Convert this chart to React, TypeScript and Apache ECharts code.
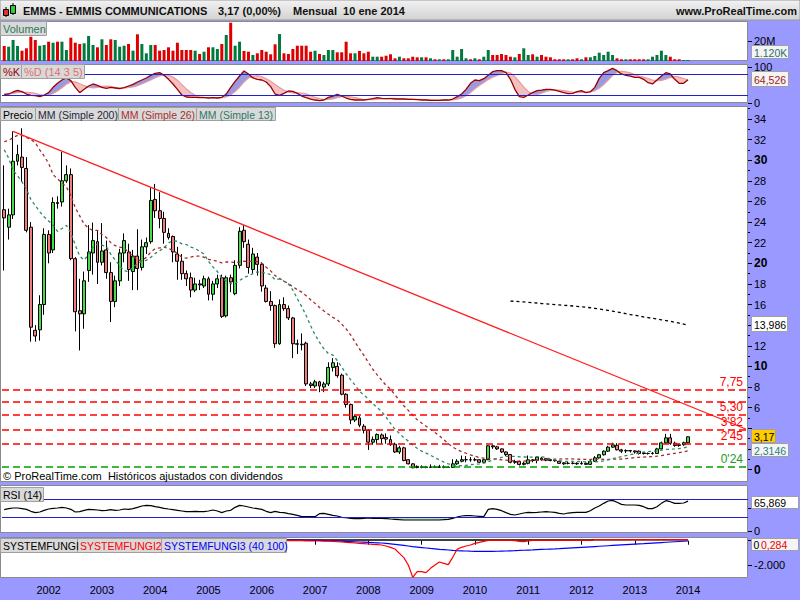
import React, { useEffect, useRef } from 'react';
import * as echarts from 'echarts';

// ---------- DATA (monthly, Mar 2001 .. Jan 2014) ----------
const opens = [
  25.2, 23.5, 24.7, 29.9, 30.3, 29.2, 23.5, 13.5, 13.55, 16.0,
  22.8, 21.3, 25.9, 25.95, 28.0, 28.6, 20.45, 15.4, 15.1, 19.3,
  21.0, 22.1, 20.1, 21.3, 19.1, 16.3, 18.3, 21.0, 21.1, 19.2,
  20.7, 19.6, 21.6, 22.1, 26.2, 25.1, 24.35, 22.9, 22.6, 20.9,
  20.2, 19.0, 18.6, 17.4, 18.0, 17.8, 18.5, 17.0, 18.0, 18.6,
  14.9, 18.6, 17.05, 19.8, 23.2, 21.85, 19.4, 20.6, 19.9, 17.6,
  16.3, 15.9, 12.2, 16.0, 15.6, 14.7, 12.2, 12.15, 12.25, 8.3,
  8.1, 8.5, 8.0, 8.3, 9.9, 10.0, 9.15, 7.3, 6.3, 4.8,
  5.0, 4.2, 3.8, 2.65, 2.9, 3.35, 3.1, 2.9, 2.45, 1.7,
  2.1, 0.95, 0.55, 0.3, 0.2, 0.25, 0.2, 0.25, 0.22, 0.25,
  0.2, 0.2, 0.55, 0.8, 0.95, 0.95, 0.93, 0.95, 0.7, 0.95,
  2.3, 2.2, 2.0, 1.7, 1.45, 0.7, 0.78, 0.5, 0.6, 0.94,
  0.9, 1.1, 1.05, 0.95, 0.87, 0.8, 0.65, 0.6, 0.6, 0.6,
  0.55, 0.6, 0.5, 0.8, 1.13, 1.43, 1.78, 2.17, 2.35, 1.9,
  1.8, 1.84, 1.8, 1.78, 1.6, 1.55, 1.55, 1.55, 2.0, 2.58,
  3.07, 2.55, 2.4, 2.4, 2.6,
];
const closes = [
  24.4, 24.7, 29.9, 30.55, 29.3, 23.2, 13.8, 12.95, 16.0, 22.8,
  21.0, 25.9, 25.8, 28.0, 28.6, 20.45, 15.3, 15.1, 18.3, 21.1,
  22.2, 20.1, 21.2, 19.1, 16.3, 18.3, 21.0, 22.2, 19.4, 20.7,
  19.5, 21.6, 22.0, 26.1, 25.1, 24.35, 23.0, 22.5, 21.1, 20.2,
  19.0, 18.5, 17.4, 18.0, 17.9, 18.5, 17.0, 18.0, 18.5, 14.85,
  18.6, 18.2, 19.8, 23.1, 22.1, 19.6, 20.9, 19.9, 17.8, 16.3,
  15.9, 12.2, 16.0, 15.6, 14.7, 12.2, 12.15, 12.1, 8.3, 8.15,
  8.5, 8.1, 8.3, 9.9, 10.35, 9.1, 7.3, 6.3, 4.8, 5.15,
  4.3, 3.8, 2.65, 2.9, 3.4, 3.0, 2.95, 2.4, 1.7, 2.1,
  0.87, 0.55, 0.17, 0.2, 0.25, 0.2, 0.25, 0.22, 0.25, 0.2,
  0.22, 0.55, 0.8, 0.95, 0.95, 0.93, 0.95, 0.7, 0.95, 2.3,
  2.2, 2.0, 1.7, 1.45, 0.7, 0.78, 0.49, 0.6, 0.94, 0.87,
  1.2, 0.95, 0.9, 0.87, 0.85, 0.6, 0.55, 0.6, 0.58, 0.55,
  0.6, 0.5, 0.8, 1.13, 1.43, 1.78, 2.17, 2.39, 1.91, 1.78,
  1.84, 1.8, 1.7, 1.55, 1.55, 1.55, 1.58, 2.0, 2.58, 3.07,
  2.55, 2.33, 2.33, 2.6, 3.17,
];
const lows = [
  19.3, 22.3, 24.3, 29.5, 27.9, 23.0, 12.4, 12.4, 12.5, 15.0,
  20.0, 21.0, 25.3, 25.5, 27.8, 20.3, 13.4, 11.55, 13.65, 18.2,
  18.9, 18.0, 19.8, 18.5, 14.3, 15.75, 17.8, 20.1, 18.3, 17.4,
  17.4, 19.3, 20.9, 21.9, 24.4, 23.4, 21.9, 22.3, 20.1, 18.4,
  18.4, 17.8, 16.7, 17.2, 17.4, 17.6, 16.4, 16.4, 17.6, 14.7,
  14.75, 17.2, 16.9, 19.5, 21.5, 19.0, 19.0, 18.8, 17.25, 16.2,
  15.4, 11.8, 12.1, 15.4, 14.5, 10.8, 11.2, 11.55, 8.1, 7.9,
  7.9, 7.5, 7.5, 8.1, 9.5, 8.9, 7.2, 6.0, 4.4, 4.6,
  4.1, 3.5, 1.9, 2.4, 2.5, 2.5, 2.5, 2.3, 1.6, 1.5,
  0.8, 0.5, 0.12, 0.12, 0.12, 0.12, 0.15, 0.15, 0.15, 0.12,
  0.15, 0.15, 0.45, 0.7, 0.7, 0.75, 0.8, 0.65, 0.65, 0.9,
  2.0, 1.9, 1.6, 1.3, 0.6, 0.55, 0.39, 0.4, 0.5, 0.7,
  0.6, 0.85, 0.8, 0.8, 0.75, 0.55, 0.45, 0.5, 0.5, 0.45,
  0.48, 0.45, 0.45, 0.75, 1.05, 1.35, 1.7, 2.1, 1.85, 1.6,
  1.6, 1.65, 1.55, 1.45, 1.45, 1.45, 1.45, 1.5, 1.95, 2.5,
  2.4, 2.2, 2.2, 2.3, 2.55,
];
const highs = [
  29.5, 25.3, 32.8, 31.5, 33.1, 30.3, 24.0, 14.0, 16.9, 23.4,
  23.2, 26.4, 26.5, 30.8, 29.5, 29.2, 20.6, 18.5, 19.2, 23.7,
  23.95, 23.2, 23.9, 22.2, 20.1, 18.8, 21.4, 22.9, 21.9, 21.3,
  23.3, 22.3, 22.5, 27.3, 27.7, 26.9, 25.0, 23.4, 22.7, 21.6,
  20.9, 19.3, 19.1, 18.6, 18.4, 18.8, 18.7, 18.3, 18.9, 18.9,
  18.8, 18.9, 20.3, 23.5, 23.7, 22.3, 21.5, 21.0, 20.1, 17.9,
  17.3, 16.0, 16.5, 16.7, 15.9, 14.8, 12.6, 13.2, 12.4, 8.5,
  8.7, 8.6, 8.5, 10.4, 10.8, 10.4, 9.3, 7.4, 6.4, 5.3,
  5.2, 4.4, 3.9, 3.2, 3.5, 3.5, 3.5, 3.3, 2.6, 2.3,
  2.2, 1.0, 0.6, 0.4, 0.4, 0.35, 0.5, 0.4, 0.45, 0.4,
  0.35, 1.0, 1.0, 1.35, 1.3, 1.2, 1.15, 1.0, 1.05, 2.35,
  2.4, 2.3, 2.05, 1.75, 1.5, 0.95, 0.85, 0.75, 1.36, 1.0,
  1.3, 1.2, 1.1, 1.0, 0.95, 0.85, 0.7, 0.75, 0.85, 0.7,
  0.8, 0.7, 0.9, 1.3, 1.5, 1.85, 2.3, 2.6, 2.56, 2.0,
  1.95, 1.9, 1.85, 1.85, 1.7, 1.65, 1.7, 2.1, 2.7, 3.46,
  3.46, 2.7, 2.5, 2.7, 3.2,
];
// volume in millions
const volumes = [
  15, 14.3, 21, 15, 10.3, 12.7, 24.3, 21, 15.3, 16,
  19.3, 18.3, 19.3, 19.3, 11, 23.3, 18.3, 17, 17.7, 25,
  16, 13.7, 21.7, 16, 21.7, 21, 14.3, 15.3, 17, 10.3,
  26.7, 17, 7.7, 16, 16, 10.3, 11, 13.7, 10.3, 18.3,
  11, 11, 11, 10.3, 7, 9.3, 13.7, 13.7, 12, 17,
  26, 38.3, 15.3, 19.3, 10, 9.3, 6, 7.7, 11, 9.3,
  6.7, 16.7, 27, 7.7, 7, 12, 15.3, 15.3, 15.3, 9.3,
  10.3, 7, 6, 11, 11, 8.7, 8.7, 19.3, 7.7, 7.7,
  10, 7.7, 9.3, 4.3, 4.3, 4.3, 5.3, 6.7, 2.7, 4.3,
  2.7, 2.7, 4.3, 3.7, 3.7, 3.7, 2.7, 1.7, 1.7, 1.7,
  1.7, 11, 4.3, 12, 2.7, 1.7, 2.7, 1.7, 4.3, 11,
  6, 6, 7, 6, 4.3, 3.7, 7, 12.7, 6, 6.7,
  4.3, 6, 4.3, 3.7, 1.7, 1.7, 1.7, 1.7, 1.7, 2.7,
  1.7, 3.7, 3.7, 5, 8.3, 6, 9.3, 6, 2.7, 1.7,
  1.7, 1.7, 1.7, 1.7, 1.7, 1.7, 4.3, 6, 10.3, 6,
  4.3, 1.7, 1.7, 1, 1,
];
const stochK = [
  23.7, 24.6, 30.3, 34.9, 31.2, 24.6, 20.9, 20, 17.2, 21.8,
  28.4, 43.3, 54.5, 63.9, 69.5, 62, 43.3, 28.4, 37.7, 47.1,
  52.7, 48.9, 43.3, 40.5, 43.3, 41.5, 39.6, 42.4, 47.1, 51.7,
  58.3, 63.9, 69.5, 76.9, 82.5, 84.4, 76.9, 65.7, 52.7, 37.7,
  21.8, 16.2, 15.3, 15.3, 14.3, 14.3, 13.4, 14.3, 13.4, 15.3,
  24.6, 43.3, 60.1, 75, 89, 80.7, 69.5, 65.7, 63.9, 58.3,
  45.2, 24.6, 20.9, 26.5, 33, 32.1, 26.5, 19, 14.3, 10.6,
  7.8, 6, 7.8, 15.3, 19, 23.7, 19, 13.4, 9.7, 7.8,
  7.8, 7.8, 9.7, 11.6, 14.3, 12.5, 11.6, 11.6, 10.6, 10.6,
  10.6, 9.7, 9.7, 8.8, 7.8, 7.8, 6.9, 6.9, 6.9, 7.8,
  7.8, 10.6, 17.2, 24.6, 37.7, 54.5, 63.9, 62, 67.6, 76.9,
  87.2, 90, 90, 84.4, 65.7, 37.7, 17.2, 15.3, 21.8, 28.4,
  34, 35.8, 37.7, 37.7, 35.8, 32.1, 28.4, 25.6, 26.5, 31.2,
  34, 28.4, 31.2, 43.3, 68.5, 84.4, 90, 96.5, 90, 80.7,
  76.9, 75, 71.3, 71.3, 65.7, 56.4, 52.7, 63.9, 75, 84.4,
  80.7, 65.7, 54.5, 54.5, 64.526,
];
const rsi = [
  47, 49.2, 50.7, 50.7, 49.2, 47.7, 43.3, 40.3, 41.8, 45.5,
  48.4, 49.9, 50.7, 52.1, 50.7, 47.7, 41.8, 42.5, 45.5, 47.7,
  47, 46.2, 44.7, 45.5, 47, 45.5, 46.2, 48.4, 47.7, 49.2,
  52.1, 55.1, 56.6, 55.9, 53.6, 52.1, 49.9, 48.4, 47, 45.5,
  44, 42.5, 42.5, 43.3, 42.5, 42.5, 44, 46.2, 44, 40.3,
  44, 45.5, 52.1, 56.6, 55.1, 52.9, 50.7, 49.2, 47.7, 43.3,
  40.3, 43.3, 41, 40.3, 38.1, 36.6, 34.4, 31.4, 31.4, 31.4,
  31.4, 38.1, 38.8, 36.6, 34.4, 32.9, 29.9, 29.2, 27.7, 27,
  27, 27.7, 28.4, 27.7, 27.7, 27.7, 27, 26.2, 25.5, 24.7,
  24, 24, 24, 24, 24, 24, 24, 24, 24, 24.7,
  25.5, 27.7, 30.7, 32.9, 33.6, 33.6, 32.9, 32.2, 31.4, 47.7,
  49.2, 47.7, 44.7, 40.3, 36.6, 35.1, 37.3, 39.5, 41, 40.3,
  41, 41.8, 42.5, 41.8, 41, 38.8, 37.3, 39.5, 40.3, 41,
  41, 41, 44.7, 50.7, 55.1, 61, 66.2, 67.7, 63.3, 58.8,
  57.3, 57.3, 57.3, 56.6, 53.6, 49.2, 49.2, 53.6, 61, 67,
  64.7, 61, 61, 61.8, 65.869,
];
const fungi1 = [
  60, 60, 60, 60, 60, 60, 60, 60, 60, 60, 60, 60, 60, 60, 60, 60, 60, 60, 60, 60,
  60, 60, 60, 60, 60, 60, 60, 60, 60, 60, 60, 60, 60, 60, 60, 60, 60, 60, 60, 60,
  60, 60, 60, 60, 60, 60, 60, 60, 60, 60, 60, 60, 60, 60, 60, 60, 60, 60, 60, 60,
  60, 60, 60, 60, 60, 60, 60, 60, 60, 60, 60, 60, 60, 60, 60, 60, 60, 60, 60, 60,
  60, 60, 60, 60, 60, 60, 60, 60, 60, 60, 60, 60, 60, 60, 60, 60, 60, 60, 60, 60,
  60, 60, 60, 60, 60, 60, 60, 60, 60, 60, 60, 60, 60, 60, 60, 60, 60, 60, 60, 60,
  60, 60, 60, 60, 60, 60, 60, 60, 60, 60, 60, 60, 60, 70, 70, 70, 70, 70, 70, 70,
  70, 70, 70, 70, 70, 70, 70, 70, 70, 70, 70, 70, 70, 70, 70,
];
const fungi2 = [
  5, 5, 5, 5, 5, 5, 5, 5, 5, 5, 5, 5, 5, 5, 5, 5, 5, 5, 5, 5,
  5, 5, 5, 5, 5, 5, 5, 5, 5, 5, 5, 5, 5, 5, 5, 5, 5, 5, 5, 5,
  5, 5, 5, 5, 5, 5, 5, 5, 5, 5, 5, 5, 5, 5, 5, 5, 5, 5, 5, 5,
  5, 5, 5, 5, 3, 3, 3, 0, -10, -20, -24, -24, -30, -40, -52, -80, -107, -135, -162, -190,
  -217, -245, -272, -300, -326, -354, -436, -545, -683, -1040, -1396, -2000, -3014, -2548, -2548, -2630, -2274, -2000, -1753, -1863,
  -1973, -1368, -710, -545, -436, -354, -217, -134, -52, 30, 30, 30, 30, 30, 20, 0, -52, -80, -20, 30,
  30, 30, 30, 30, 30, 30, 30, 30, 30, 30, 30, 30, 30, 85, 85, 85, 85, 85, 85, 85,
  85, 85, 85, 85, 85, 85, 85, 85, 85, 85, 85, 85, 85, 85, 85,
];
const fungi3 = [
  55, 55, 55, 55, 55, 55, 55, 55, 55, 55, 55, 55, 55, 55, 55, 55, 55, 55, 55, 55,
  55, 55, 55, 55, 55, 55, 55, 55, 55, 55, 55, 55, 55, 55, 55, 55, 55, 55, 55, 55,
  55, 55, 55, 55, 55, 55, 55, 55, 55, 55, 55, 55, 55, 55, 55, 55, 55, 55, 55, 55,
  55, 55, 55, 55, 58, 55, 50, 45, 38, 32, 30, 20, 10, 0, -12, -24, -40, -57, -73, -90,
  -107, -123, -140, -156, -172, -189, -225, -262, -299, -340, -381, -436, -491, -527, -563, -600, -637, -673, -710, -738,
  -765, -793, -820, -834, -848, -862, -875, -875, -875, -875, -875, -866, -857, -848, -834, -820, -804, -787, -771, -755,
  -738, -721, -705, -688, -672, -655, -633, -611, -589, -567, -545, -523, -501, -480, -458, -436, -414, -392, -370, -348,
  -326, -304, -282, -260, -239, -217, -195, -173, -151, -129, -107, -86, -65, -45, -24,
];
// moving averages before enough history is shown
const mm13Head = [31.0, 30.2, 29.0, 28.5, 27.9, 27.2, 26.2, 25.6, 25.0, 24.5, 24.1, 23.7];
const mm26Head = [31.8, 31.9, 32.2, 32.4, 32.4, 32.2, 32.0, 31.7, 31.0, 30.4, 29.7, 28.6, 28.2,
  27.8, 27.4, 26.6, 25.4, 24.6, 23.8, 23.4, 23.2, 23.2, 22.8, 22.5, 22.0];
const mm200Start = 114;
const mm200Tail = [
  16.34, 16.31, 16.28, 16.25, 16.22, 16.18, 16.15, 16.1, 16.07, 16.04,
  16.0, 15.97, 15.93, 15.9, 15.86, 15.82, 15.78, 15.74, 15.69, 15.63,
  15.57, 15.5, 15.43, 15.36, 15.28, 15.2, 15.11, 15.03, 14.95, 14.88,
  14.8, 14.73, 14.66, 14.59, 14.52, 14.45, 14.37, 14.29, 14.2, 14.1, 13.986,
];
const trendFrom = { index: 2, value: 32.8 };
const trendTo = { index: 167, value: 3.93 };
const redLevels = [7.75, 6.55, 5.3, 3.82, 2.45];
const redLevelLabels = ['7,75', '', '5,30', "3'82", "2'45"];
const greenLevel = 0.24;
const greenLevelLabel = "0'24";
const yearLabels = ['2002', '2003', '2004', '2005', '2006', '2007', '2008', '2009', '2010', '2011', '2012', '2013', '2014'];
const priceTicks = [0, 2, 4, 6, 8, 10, 12, 14, 16, 18, 20, 22, 24, 26, 28, 30, 32, 34];
const priceLabels = [0, 6, 8, 10, 12, 16, 18, 20, 22, 24, 26, 28, 30, 32, 34];
const priceMinorTicks = [1, 3, 5, 7, 9, 11, 13, 15, 17, 19, 21, 23, 25, 27, 29, 31, 33, 35];

const N_SLOTS = 168;
const cats: string[] = [];
for (let i = 0; i < N_SLOTS; i++) {
  const m = 2 + i;
  const y = 2001 + Math.floor(m / 12);
  const mm = (m % 12) + 1;
  cats.push(`${y}-${String(mm).padStart(2, '0')}`);
}

function sma(vals: number[], period: number, head: number[]) {
  return vals.map((_, i) => {
    if (i < period - 1) return head[i];
    let s = 0;
    for (let k = i - period + 1; k <= i; k++) s += vals[k];
    return +(s / period).toFixed(3);
  });
}
function smaPartial(vals: number[], period: number) {
  return vals.map((_, i) => {
    const a = Math.max(0, i - period + 1);
    let s = 0;
    for (let k = a; k <= i; k++) s += vals[k];
    return s / (i - a + 1);
  });
}

const FONT = '"Liberation Sans", Arial, sans-serif';
const GREEN_C = '#44dd44';
const RED_C = '#f07c7c';

function box(x: number, y: number, w: number, h: number, text: string, color: string, fill = '#d9d9d9', size = 10.5) {
  return [
    { type: 'rect', z: 100, shape: { x, y, width: w, height: h }, style: { fill, stroke: '#a0a0a0', lineWidth: 1 } },
    { type: 'text', z: 101, x: x + 2.5, y: y + h / 2 + 0.5, style: { text, fill: color, font: `${size}px ${FONT}`, verticalAlign: 'middle' } },
  ];
}

function buildOption() {
  const candle = opens.map((o, i) => [o, closes[i], lows[i], highs[i]]);
  const mm13 = sma(closes, 13, mm13Head);
  const mm26 = sma(closes, 26, mm26Head);
  const mm200: (number | null)[] = closes.map((_, i) => (i >= mm200Start ? mm200Tail[i - mm200Start] : null));
  const trend: (number | null)[] = cats.map((_, i) => (i === trendFrom.index ? trendFrom.value : i === trendTo.index ? trendTo.value : null));
  const stochD = smaPartial(stochK, 5);
  const stBase = stochK.map((k, i) => Math.min(k, stochD[i]));
  const stUp = stochK.map((k, i) => Math.max(k - stochD[i], 0));
  const stDown = stochK.map((k, i) => Math.max(stochD[i] - k, 0));
  const rsiBase = rsi.map((v) => Math.min(v, 30));
  const rsiBand = rsi.map((v) => 30 - Math.min(v, 30));

  const gridDefs = [
    { top: 21, height: 40 },
    { top: 64, height: 39 },
    { top: 106, height: 376 },
    { top: 485, height: 48 },
    { top: 537, height: 41 },
  ];
  const grid = gridDefs.map((g) => ({ left: 2, width: 746, top: g.top, height: g.height, show: false }));

  const isYearTick = (idx: number, v: string) => yearLabels.includes(v.slice(0, 4)) && v.endsWith('-01');
  const xAxis = gridDefs.map((_, gi) => ({
    type: 'category',
    gridIndex: gi,
    data: cats,
    boundaryGap: true,
    show: gi === 4,
    axisLine: { show: false },
    axisTick: { show: gi === 4, alignWithLabel: true, interval: isYearTick, length: 4, lineStyle: { color: '#000' } },
    axisLabel: {
      show: gi === 4, interval: isYearTick, formatter: (v: string) => v.slice(0, 4),
      color: '#000', fontSize: 11, fontFamily: FONT, margin: 6,
    },
    splitLine: { show: false },
  }));

  const yBase = {
    type: 'value',
    position: 'right',
    axisLine: { show: false },
    splitLine: { show: false },
    axisTick: { show: true, length: 4, lineStyle: { color: '#000' } },
    axisLabel: { color: '#000', fontSize: 11, fontFamily: FONT, margin: 6 },
  };

  const yAxis = [
    { ...yBase, gridIndex: 0, min: 0, max: 40,
      axisTick: { ...yBase.axisTick, customValues: [20] },
      axisLabel: { ...yBase.axisLabel, customValues: [20], formatter: () => '20M' } },
    { ...yBase, gridIndex: 1, min: -0.56, max: 108.7,
      axisTick: { ...yBase.axisTick, customValues: [0, 100] },
      axisLabel: { ...yBase.axisLabel, customValues: [0, 100], formatter: (v: number) => String(v) } },
    { ...yBase, gridIndex: 2, min: -1.212, max: 35.257,
      axisTick: { ...yBase.axisTick, customValues: priceTicks },
      axisLabel: { ...yBase.axisLabel, customValues: priceLabels,
        formatter: (v: number) => (v % 10 === 0 ? `{b|${v}}` : `${v}`),
        rich: { b: { fontWeight: 'bold', fontSize: 12, fontFamily: FONT, color: '#000' } } } },
    { ...yBase, gridIndex: 2, min: -1.212, max: 35.257,
      axisTick: { show: true, length: 2, lineStyle: { color: '#000' }, customValues: priceMinorTicks },
      axisLabel: { show: false } },
    { ...yBase, gridIndex: 3, min: -4.89, max: 101.8,
      axisTick: { ...yBase.axisTick, customValues: [0, 50] },
      axisLabel: { ...yBase.axisLabel, customValues: [0] } },
    { ...yBase, gridIndex: 4, min: -3070, max: 305,
      axisTick: { ...yBase.axisTick, customValues: [-2000, 0] },
      axisLabel: { ...yBase.axisLabel, customValues: [-2000], formatter: () => '-2.000' } },
  ];

  const noLine = { lineStyle: { opacity: 0 }, symbol: 'none', showSymbol: false };

  const levelLine = (lv: number, lbl: string, color: string, textColor: string) => ({
    type: 'line', xAxisIndex: 2, yAxisIndex: 2, data: [], color, silent: true,
    markLine: {
      silent: true, symbol: ['none', 'none'], animation: false,
      lineStyle: { color, type: [7, 4], width: 1.6, opacity: 1 },
      label: { show: lbl !== '', formatter: lbl, color: textColor, position: 'insideEndTop', distance: [5, 2], fontSize: 12, fontFamily: FONT },
      data: [{ yAxis: lv }],
    },
  });

  const series: any[] = [
    {
      type: 'bar', xAxisIndex: 0, yAxisIndex: 0, barWidth: 3,
      data: volumes.map((v, i) => ({ value: v, itemStyle: { color: closes[i] >= opens[i] ? '#007a3d' : '#dd0000' } })),
    },
    { type: 'line', xAxisIndex: 1, yAxisIndex: 1, stack: 'st', data: stBase, ...noLine },
    { type: 'line', xAxisIndex: 1, yAxisIndex: 1, stack: 'st', data: stUp, ...noLine, areaStyle: { color: '#9a9ae0', opacity: 1 } },
    { type: 'line', xAxisIndex: 1, yAxisIndex: 1, stack: 'st', data: stDown, ...noLine, areaStyle: { color: '#f5c0c0', opacity: 1 } },
    { type: 'line', xAxisIndex: 1, yAxisIndex: 1, data: stochD, symbol: 'none', lineStyle: { color: '#e99a9a', width: 1.2 } },
    {
      type: 'line', xAxisIndex: 1, yAxisIndex: 1, data: stochK, symbol: 'none', lineStyle: { color: '#990000', width: 1.3 },
      markLine: { silent: true, symbol: ['none', 'none'], label: { show: false }, lineStyle: { color: '#2020cc', type: 'solid', width: 1 },
        data: [{ yAxis: 20 }, { yAxis: 80 }] },
    },
    ...redLevels.map((lv, i) => levelLine(lv, redLevelLabels[i], '#ff0000', '#ff0000')),
    levelLine(greenLevel, greenLevelLabel, '#00a000', '#229922'),
    {
      type: 'candlestick', xAxisIndex: 2, yAxisIndex: 2, data: candle, barWidth: 3.4,
      itemStyle: { color: GREEN_C, color0: RED_C, borderColor: '#000', borderColor0: '#000', borderWidth: 1 },
    },
    { type: 'line', xAxisIndex: 2, yAxisIndex: 2, data: mm200, symbol: 'none', lineStyle: { color: '#000', width: 1.3, type: [3, 3] } },
    { type: 'line', xAxisIndex: 2, yAxisIndex: 2, data: mm26, symbol: 'none', lineStyle: { color: '#a52a2a', width: 1.3, type: [3, 3] } },
    { type: 'line', xAxisIndex: 2, yAxisIndex: 2, data: mm13, symbol: 'none', lineStyle: { color: '#2e8b67', width: 1.3, type: [3, 3] } },
    { type: 'line', xAxisIndex: 2, yAxisIndex: 2, data: trend, connectNulls: true, symbol: 'none', lineStyle: { color: '#ff2020', width: 1.3 } },
    { type: 'line', xAxisIndex: 3, yAxisIndex: 4, stack: 'rs', data: rsiBase, ...noLine },
    { type: 'line', xAxisIndex: 3, yAxisIndex: 4, stack: 'rs', data: rsiBand, ...noLine, areaStyle: { color: '#b6dcc4', opacity: 1 } },
    {
      type: 'line', xAxisIndex: 3, yAxisIndex: 4, data: rsi, symbol: 'none', lineStyle: { color: '#000', width: 1.2 },
      markLine: { silent: true, symbol: ['none', 'none'], label: { show: false }, lineStyle: { color: '#2020cc', type: 'solid', width: 1 },
        data: [{ yAxis: 30 }, { yAxis: 70 }] },
    },
    { type: 'line', xAxisIndex: 4, yAxisIndex: 5, data: fungi1, symbol: 'none', lineStyle: { color: '#000', width: 1.5 } },
    { type: 'line', xAxisIndex: 4, yAxisIndex: 5, data: fungi3, symbol: 'none', lineStyle: { color: '#0000ff', width: 1.2 } },
    { type: 'line', xAxisIndex: 4, yAxisIndex: 5, data: fungi2, symbol: 'none', lineStyle: { color: '#ff0000', width: 1.2 } },
  ];

  const panels = gridDefs.map((g) => ({
    type: 'rect', z: -1, shape: { x: 0.5, y: g.top + 0.5, width: 747, height: g.height - 1 },
    style: { fill: '#ffffff', stroke: '#8a8a8a', lineWidth: 1 },
  }));

  const graphic: any[] = [
    ...panels,
    // header
    { type: 'rect', z: 50, shape: { x: 0, y: 0, width: 800, height: 20 },
      style: { fill: new echarts.graphic.LinearGradient(0, 0, 0, 1, [{ offset: 0, color: '#f2f2f2' }, { offset: 1, color: '#d2d2d2' }]), stroke: '#9a9a9a', lineWidth: 1 } },
    { type: 'line', z: 51, shape: { x1: 6, y1: 7, x2: 6, y2: 17 }, style: { stroke: '#000', lineWidth: 1 } },
    { type: 'rect', z: 52, shape: { x: 3.5, y: 9.5, width: 5, height: 6 }, style: { fill: '#e03030', stroke: '#000', lineWidth: 1 } },
    { type: 'line', z: 51, shape: { x1: 13, y1: 3, x2: 13, y2: 15 }, style: { stroke: '#000', lineWidth: 1 } },
    { type: 'rect', z: 52, shape: { x: 10.5, y: 5.5, width: 5, height: 8 }, style: { fill: '#33cc33', stroke: '#000', lineWidth: 1 } },
    { type: 'text', z: 53, x: 23, y: 10.5, style: { text: 'EMMS - EMMIS COMMUNICATIONS', fill: '#111', font: `bold 11px ${FONT}`, verticalAlign: 'middle' } },
    { type: 'text', z: 53, x: 218, y: 10.5, style: { text: '3,17 (0,00%)', fill: '#111', font: `bold 11px ${FONT}`, verticalAlign: 'middle' } },
    { type: 'text', z: 53, x: 293, y: 10.5, style: { text: 'Mensual  10 ene 2014', fill: '#111', font: `bold 11px ${FONT}`, verticalAlign: 'middle' } },
    { type: 'text', z: 53, x: 797, y: 10.5, style: { text: 'www.ProRealTime.com', fill: '#111', font: `bold 11px ${FONT}`, verticalAlign: 'middle', align: 'right' } },
    // legend boxes
    ...box(0.5, 21.5, 46, 14, 'Volumen', '#2b7a5a', '#d9d9d9', 11),
    ...box(0.5, 64.5, 21, 14, '%K', '#990000', '#d9d9d9', 11),
    ...box(21.5, 64.5, 63, 14, '%D (14 3 5)', '#e07070', '#d9d9d9', 11),
    ...box(0.5, 107.5, 35, 13, 'Precio', '#000'),
    ...box(35.5, 107.5, 83, 13, 'MM (Simple 200)', '#262640'),
    ...box(118.5, 107.5, 78, 13, 'MM (Simple 26)', '#a83030'),
    ...box(196.5, 107.5, 79, 13, 'MM (Simple 13)', '#2e7a66'),
    ...box(0.5, 487.5, 43, 14, 'RSI (14)', '#000'),
    ...box(0.5, 538.5, 77, 14, 'SYSTEMFUNGI', '#000'),
    ...box(77.5, 538.5, 84, 14, 'SYSTEMFUNGI2', '#ff0000'),
    ...box(161.5, 538.5, 125, 14, 'SYSTEMFUNGI3 (40 100)', '#0000ff'),
    { type: 'text', z: 100, x: 3, y: 476, style: { text: '© ProRealTime.com  Históricos ajustados con dividendos', fill: '#000', font: `11px ${FONT}`, verticalAlign: 'middle' } },
    // axis value boxes
    ...box(751.5, 45.5, 37, 13, '1.120K', '#2a6e6e', '#f4f4f4'),
    ...box(751.5, 71.5, 37, 15, '64,526', '#a02020', '#f4f4f4'),
    ...box(751.5, 316.5, 36, 15, '13,986', '#000', '#ffffff'),
    ...box(751.5, 443.5, 37, 13, '2,3146', '#2a8080', '#f4f4f4'),
    ...box(751.5, 429.5, 24, 13, '3,17', '#000', '#ffcc00'),
    ...box(751.5, 496.5, 47, 12, '65,869', '#000', '#ffffff'),
    { type: 'rect', z: 100, shape: { x: 751.5, y: 538.5, width: 47, height: 12 }, style: { fill: '#f4f4f4', stroke: '#a0a0a0', lineWidth: 1 } },
    { type: 'text', z: 101, x: 753.5, y: 544.5, style: { text: '0', fill: '#000', font: `10.5px ${FONT}`, verticalAlign: 'middle' } },
    { type: 'text', z: 101, x: 761, y: 544.5, style: { text: '0,284', fill: '#ee0000', font: `10.5px ${FONT}`, verticalAlign: 'middle' } },
  ];

  return {
    animation: false,
    backgroundColor: '#9999ff',
    textStyle: { fontFamily: FONT },
    grid,
    xAxis,
    yAxis,
    series,
    graphic,
  };
}

export default function App() {
  const ref = useRef<HTMLDivElement>(null);
  useEffect(() => {
    const chart = echarts.init(ref.current as HTMLDivElement, null, { renderer: 'svg' });
    chart.setOption(buildOption() as any);
    return () => chart.dispose();
  }, []);
  return <div ref={ref} style={{ position: 'absolute', left: 0, top: 0, width: 800, height: 600 }} />;
}
